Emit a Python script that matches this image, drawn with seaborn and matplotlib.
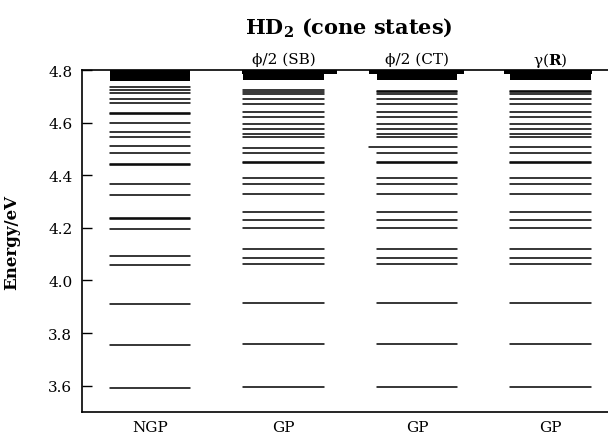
import pandas as pd
import seaborn as sns
import matplotlib.pyplot as plt

# energy levels (eV), one list per column
columns = ["NGP", "GP", "GP", "GP"]
top_labels = ["", "ϕ/2 (SB)", "ϕ/2 (CT)", "γ($\\mathbf{R}$)"]

ngp_levels = [4.734, 4.724, 4.712, 4.691, 4.673, 4.637, 4.633, 4.597, 4.565, 4.545,
              4.512, 4.485, 4.442, 4.438, 4.366, 4.325, 4.236, 4.232, 4.194, 4.093,
              4.059, 3.910, 3.754, 3.590]
sb_levels = [4.724, 4.716, 4.709, 4.691, 4.670, 4.641, 4.620, 4.594, 4.575, 4.558,
             4.546, 4.502, 4.483, 4.449, 4.445, 4.390, 4.365, 4.328, 4.259, 4.229,
             4.201, 4.118, 4.085, 4.062, 3.915, 3.759, 3.594]
ct_levels = [4.720, 4.715, 4.709, 4.690, 4.670, 4.641, 4.620, 4.594, 4.575, 4.558,
             4.546, 4.483, 4.449, 4.445, 4.390, 4.365, 4.328, 4.259, 4.229,
             4.201, 4.118, 4.085, 4.062, 3.915, 3.759, 3.594]
ct_long = [4.507]
gr_levels = [4.720, 4.715, 4.709, 4.690, 4.670, 4.641, 4.620, 4.594, 4.575, 4.558,
             4.546, 4.507, 4.483, 4.449, 4.445, 4.390, 4.365, 4.328, 4.259, 4.229,
             4.201, 4.118, 4.085, 4.062, 3.915, 3.759, 3.594]

# dense bunch of levels right below 4.8 (drawn as a solid block)
dense_from = [4.760, 4.762, 4.762, 4.763]
band_from = [None, 4.785, 4.785, 4.785]

all_levels = [ngp_levels, sb_levels, ct_levels, gr_levels]

hw = 0.30
rows = []
for i, levs in enumerate(all_levels):
    for k, e in enumerate(levs):
        rows.append({"uid": f"{i}-{k}", "x": i - hw, "E": e})
        rows.append({"uid": f"{i}-{k}", "x": i + hw, "E": e})
for k, e in enumerate(ct_long):
    rows.append({"uid": f"long-{k}", "x": 2 - 0.357, "E": e})
    rows.append({"uid": f"long-{k}", "x": 2 + hw, "E": e})
df = pd.DataFrame(rows)

sns.set_style("ticks")
plt.rcParams['font.family'] = ['DejaVu Serif']
plt.rcParams['mathtext.fontset'] = 'dejavuserif'
for key in ['text.color', 'axes.labelcolor', 'xtick.color', 'ytick.color', 'axes.edgecolor']:
    plt.rcParams[key] = 'black'

fig = plt.figure(figsize=(6.08, 4.35), dpi=100)
ax = fig.add_axes([0.1349, 0.0506, 0.8651, 0.786])

sns.lineplot(data=df, x="x", y="E", units="uid", estimator=None, sort=False,
             color="black", lw=1.1, ax=ax, legend=False)

# solid blocks at the top
band_ext = [None, (-0.31, 0.40), (-0.357, 0.355), (-0.35, 0.31)]
for i in range(4):
    ax.fill_between([i - hw, i + hw], dense_from[i], 4.81, color="black", lw=0)
    if band_from[i] is not None:
        a, b = band_ext[i]
        ax.fill_between([i + a, i + b], band_from[i], 4.81, color="black", lw=0)

ax.set_xlim(-0.509, 3.431)
ax.set_ylim(3.5, 4.8)
ax.set_xticks(range(4))
ax.set_xticklabels(columns)
ax.set_yticks([3.6, 3.8, 4.0, 4.2, 4.4, 4.6, 4.8])
ax.set_yticklabels([f"{v:.1f}" for v in [3.6, 3.8, 4.0, 4.2, 4.4, 4.6, 4.8]])
ax.tick_params(axis='x', length=0, pad=6, labelsize=11)
ax.tick_params(axis='y', direction='in', length=7, width=1, pad=7, labelsize=11)
ax.spines['right'].set_visible(False)
for s in ['left', 'top', 'bottom']:
    ax.spines[s].set_linewidth(1.2)

ax.set_xlabel("")
ax.set_ylabel("Energy/eV", fontweight='bold', fontsize=12)
ax.yaxis.set_label_coords(-0.118, 0.5)

for i, lab in enumerate(top_labels):
    ax.text(i, 4.842, lab, ha='center', va='center', fontsize=11, clip_on=False)

fig.text(349 / 608, 1 - 28 / 435, "HD$_\\mathbf{2}$ (cone states)",
         ha='center', va='center', fontsize=15, fontweight='bold')

fig.savefig("out.png", dpi=100)
